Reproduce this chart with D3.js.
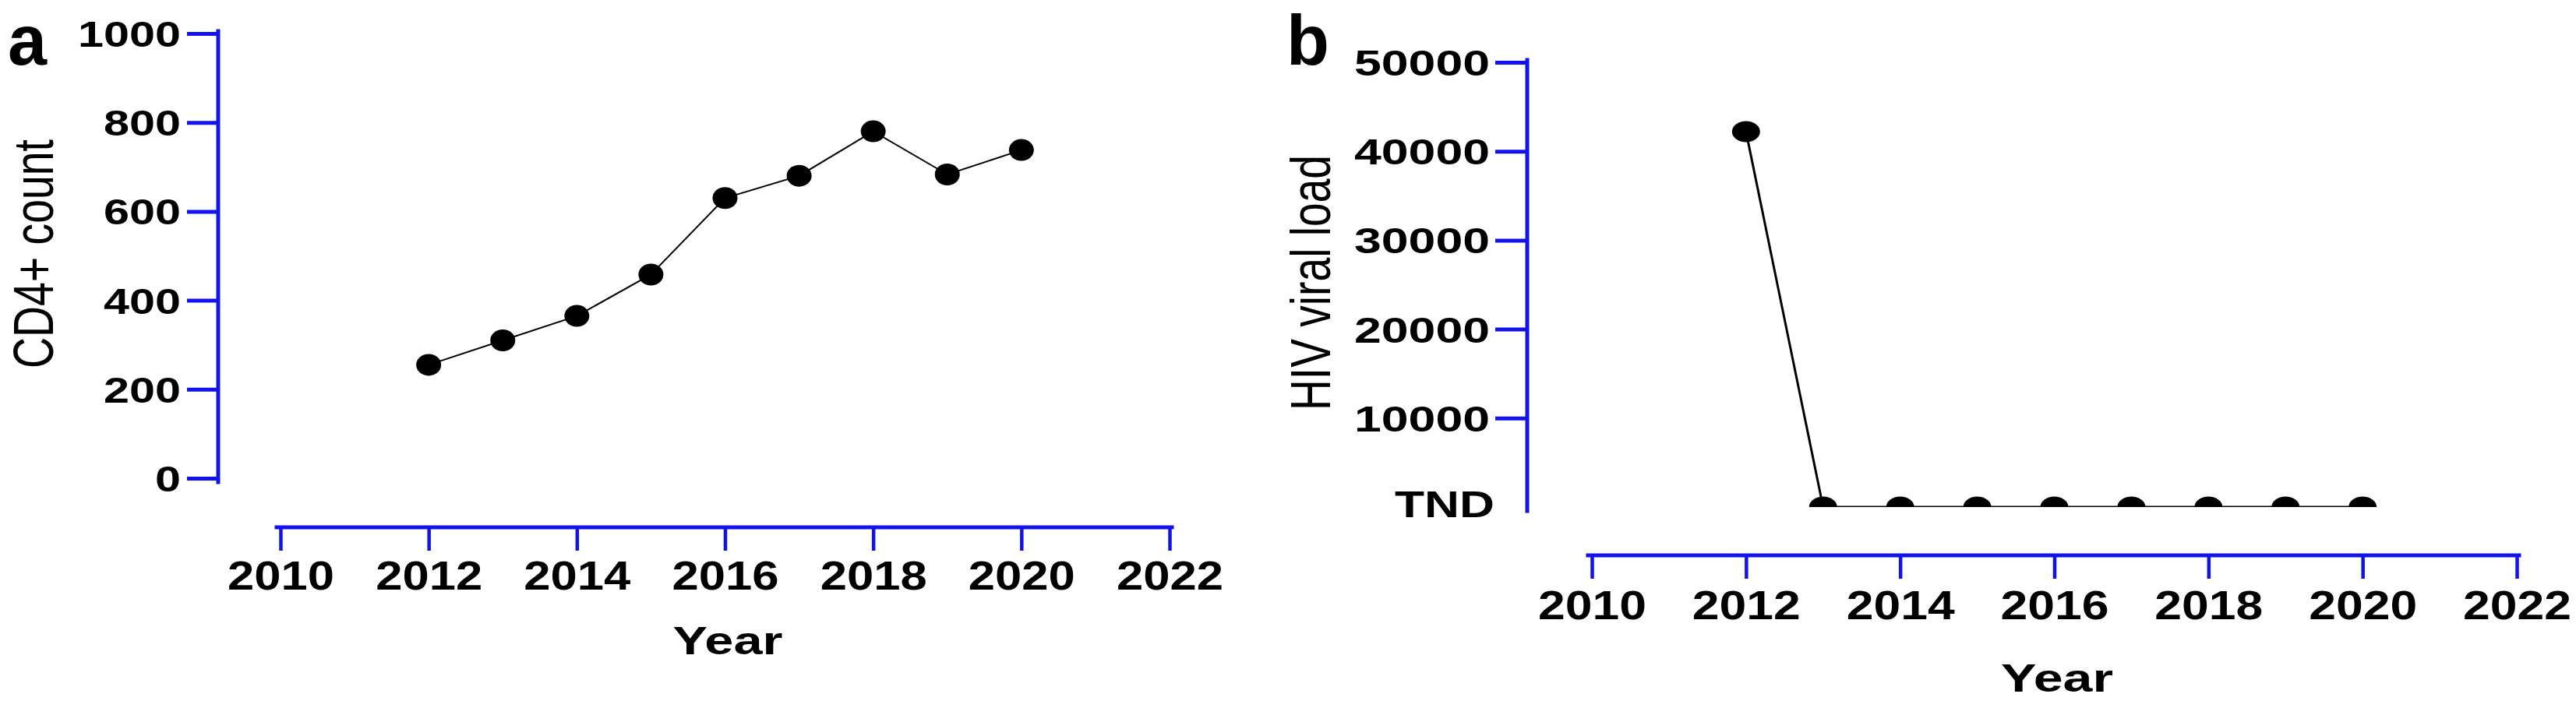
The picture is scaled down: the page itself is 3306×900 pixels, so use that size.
<!DOCTYPE html>
<html><head><meta charset="utf-8">
<script src="https://cdn.jsdelivr.net/npm/d3@7"></script>
<style>body{margin:0;background:#fff}</style>
</head><body>
<svg id="c" width="3306" height="900" xmlns="http://www.w3.org/2000/svg"></svg>
<script>
// ---------- data ----------
const years = [2012, 2013, 2014, 2015, 2016, 2017, 2018, 2019, 2020];
const cd4Count = [255, 310, 365, 458, 630, 680, 780, 683, 738];
const viralLoad = [42200, 0, 0, 0, 0, 0, 0, 0, 0];
const xTicks = [2010, 2012, 2014, 2016, 2018, 2020, 2022];
const yTicksA = [0, 200, 400, 600, 800, 1000];
const yTickLabelsA = ["0", "200", "400", "600", "800", "1000"];
const yTicksB = [0, 10000, 20000, 30000, 40000, 50000];
const yTickLabelsB = ["TND", "10000", "20000", "30000", "40000", "50000"];
const panelLetters = ["a", "b"];
const yTitles = ["CD4+ count", "HIV viral load"];
const xTitle = "Year";

// ---------- layout ----------
const FONT = "'Liberation Sans', Arial, Helvetica, sans-serif";
const BLUE = "#1212ee";
const svg = d3.select("#c");

const panels = [
  {
    letter: panelLetters[0], letterX: 10,
    values: cd4Count, yTicks: yTicksA, yLabels: yTickLabelsA,
    xRange: [360, 1501], yDomain: [0, 1000], yRange: [614, 43],
    yAxisX: 280, xAxisY: 677, yTickLen: 40, yLabelRight: 232, yCharW: 33,
    xTickLen: 30, xLabelBase: 757, xCharW: 34.25,
    xTitleX: 934, xTitleBase: 840, xTitleW: 141,
    yTitle: yTitles[0], yTitleCY: 326, yTitleBaseX: 68, yTitleLen: 294,
    rx: 16, ry: 14, clip: false
  },
  {
    letter: panelLetters[1], letterX: 1651,
    values: viralLoad, yTicks: yTicksB, yLabels: yTickLabelsB,
    xRange: [2043, 3230], yDomain: [0, 50000], yRange: [651, 80],
    yAxisX: 1960, xAxisY: 713, yTickLen: 41, yLabelRight: 1912, yCharW: 34.8,
    xTickLen: 30, xLabelBase: 795, xCharW: 34.75,
    xTitleX: 2640, xTitleBase: 888, xTitleW: 144,
    yTitle: yTitles[1], yTitleCY: 363, yTitleBaseX: 1707, yTitleLen: 328,
    rx: 18, ry: 13.5, clip: true
  }
];

panels.forEach((p, pi) => {
  const x = d3.scaleLinear().domain([2010, 2022]).range(p.xRange);
  const y = d3.scaleLinear().domain(p.yDomain).range(p.yRange);

  // panel letter
  svg.append("text").attr("x", p.letterX).attr("y", 83)
    .attr("font-family", FONT).attr("font-weight", "bold").attr("font-size", 90)
    .attr("fill", "#000").text(p.letter);

  // ---- y axis ----
  const gy = svg.append("g").attr("transform", `translate(${p.yAxisX},0)`);
  const yAxis = d3.axisLeft(y).tickValues(p.yTicks)
    .tickFormat((d, i) => p.yLabels[i]).tickSize(p.yTickLen).tickSizeOuter(0).tickPadding(8);
  gy.call(yAxis);
  gy.select(".domain").remove();
  gy.append("line").attr("x1", 0).attr("x2", 0)
    .attr("y1", y.range()[1] - 3).attr("y2", y.range()[0] + 5)
    .attr("stroke", BLUE).attr("stroke-width", 5).attr("stroke-linecap", "square");
  gy.selectAll(".tick line").attr("stroke", BLUE).attr("stroke-width", 5);
  gy.selectAll(".tick text")
    .attr("x", p.yLabelRight - p.yAxisX).attr("dy", "0.36em")
    .attr("font-family", FONT).attr("font-weight", "bold").attr("font-size", 46)
    .attr("fill", "#000")
    .attr("textLength", function () { return this.textContent.length * p.yCharW; })
    .attr("lengthAdjust", "spacingAndGlyphs");
  if (p.clip) {
    // "TND" label at zero: no tick mark, slightly larger
    gy.selectAll(".tick").filter(d => d === 0).each(function () {
      const t = d3.select(this);
      t.select("line").remove();
      t.select("text").attr("font-size", 49).attr("x", 1918 - p.yAxisX)
        .attr("y", -5).attr("textLength", 128);
    });
  }

  // ---- x axis ----
  const gx = svg.append("g").attr("transform", `translate(0,${p.xAxisY})`);
  const xAxis = d3.axisBottom(x).tickValues(xTicks).tickFormat(d3.format("d"))
    .tickSize(p.xTickLen).tickSizeOuter(0);
  gx.call(xAxis);
  gx.select(".domain").remove();
  gx.append("line").attr("y1", 0).attr("y2", 0)
    .attr("x1", x.range()[0] - 5).attr("x2", x.range()[1] + 3)
    .attr("stroke", BLUE).attr("stroke-width", 5).attr("stroke-linecap", "square");
  gx.selectAll(".tick line").attr("stroke", BLUE).attr("stroke-width", 4.5);
  gx.selectAll(".tick text")
    .attr("y", p.xLabelBase - p.xAxisY).attr("dy", 0)
    .attr("font-family", FONT).attr("font-weight", "bold").attr("font-size", 52)
    .attr("fill", "#000")
    .attr("textLength", function () { return this.textContent.length * p.xCharW; })
    .attr("lengthAdjust", "spacingAndGlyphs");

  // ---- axis titles ----
  svg.append("text").attr("x", p.xTitleX).attr("y", p.xTitleBase)
    .attr("text-anchor", "middle").attr("font-family", FONT).attr("font-weight", "bold")
    .attr("font-size", 50).attr("fill", "#000")
    .attr("textLength", p.xTitleW).attr("lengthAdjust", "spacingAndGlyphs")
    .text(xTitle);

  svg.append("text")
    .attr("transform", `translate(${p.yTitleBaseX},${p.yTitleCY}) rotate(-90)`)
    .attr("text-anchor", "middle").attr("font-family", FONT)
    .attr("font-size", 72).attr("fill", "#000")
    .attr("textLength", p.yTitleLen).attr("lengthAdjust", "spacingAndGlyphs")
    .text(p.yTitle);

  // ---- data ----
  const data = years.map((yr, i) => ({ yr, v: p.values[i] }));
  let g = svg.append("g");
  if (p.clip) {
    const id = "clip" + pi;
    svg.append("clipPath").attr("id", id).append("rect")
      .attr("x", x.range()[0] - 100).attr("y", 0)
      .attr("width", x.range()[1] - x.range()[0] + 200).attr("height", y(0));
    g.attr("clip-path", `url(#${id})`);
  }
  g.append("path").datum(data)
    .attr("fill", "none").attr("stroke", "#000").attr("stroke-width", p.clip ? 3 : 2)
    .attr("d", d3.line().x(d => x(d.yr)).y(d => y(d.v)));
  g.selectAll("ellipse").data(data).enter().append("ellipse")
    .attr("cx", d => x(d.yr)).attr("cy", d => y(d.v))
    .attr("rx", p.rx).attr("ry", p.ry).attr("fill", "#000");
});
</script>
</body></html>
